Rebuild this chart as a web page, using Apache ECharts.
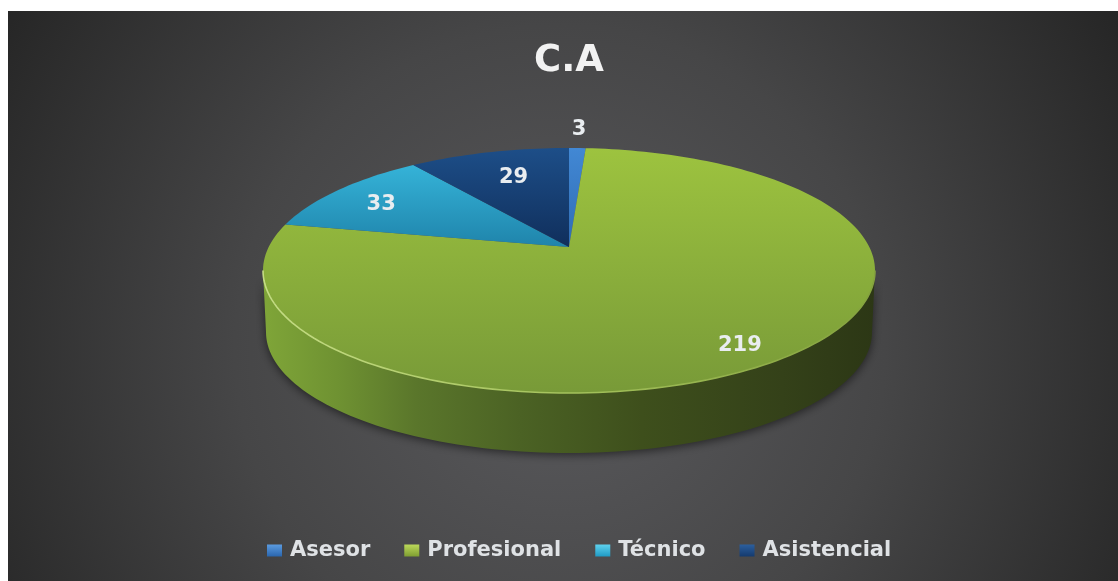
<!DOCTYPE html>
<html>
<head>
<meta charset="utf-8">
<title>C.A</title>
<style>
  html, body { margin: 0; padding: 0; background: #fff; }
  #chart { width: 1118px; height: 581px; }
</style>
<script src="https://cdn.jsdelivr.net/npm/echarts@6/dist/echarts.min.js"></script>
</head>
<body>
<div id="chart"></div>
<script>
const chartTitle = 'C.A'
const categories = ['Asesor', 'Profesional', 'Técnico', 'Asistencial']
const values = [3, 219, 33, 29]

// forma de la torta en pantalla
const top3d = { cx: 569, cy: 270.5, rx: 306, ry: 122.5 }
const base3d = { cx: 569, cy: 332, rx: 303, ry: 121 }
const tilt = -0.192 // el vértice queda por encima del centro de la elipse
const labelRadius = [1.26, 0.86, 0.79, 0.72]
const labelShift = [0, 2.5, -1, 1.5]

const grad = (stops, x2, y2) => new echarts.graphic.LinearGradient(0, 0, x2, y2, stops.map((c, i) => ({ offset: i / (stops.length - 1), color: c })))
const globalGrad = (x, y, x2, y2, stops) => ({
  type: 'linear', x, y, x2, y2, global: true,
  colorStops: stops.map(s => ({ offset: s[0], color: s[1] }))
})

const faceColors = [
  globalGrad(0, 148, 0, 247, [[0, '#4288d4'], [1, '#2f6cb4']]),
  globalGrad(0, 148, 0, 393, [[0, '#9dc33f'], [1, '#789a38']]),
  globalGrad(0, 165, 0, 247, [[0, '#35b3d8'], [1, '#1f84ab']]),
  globalGrad(0, 148, 0, 247, [[0, '#1d4e88'], [1, '#102f5c']])
]
const legendColors = [
  grad(['#5b9be0', '#2a66ae'], 0, 1),
  grad(['#bcd95a', '#7f9e32'], 0, 1),
  grad(['#5fd2ee', '#1f9ac4'], 0, 1),
  grad(['#2c5f9e', '#143a6e'], 0, 1)
]

const total = values.reduce((a, b) => a + b, 0)
const startAngle = i => values.slice(0, i).reduce((a, b) => a + b, 0) / total * 360

// punto del disco (ángulo en grados desde arriba, horario) proyectado con perspectiva
function project(angle, r, e) {
  const a = angle * Math.PI / 180
  const x = r * Math.sin(a)
  const y = -r * Math.cos(a)
  const w = 1 + y * tilt
  return [
    e.cx + e.rx * x * Math.sqrt(1 - tilt * tilt) / w,
    e.cy + e.ry * (y + tilt) / w
  ]
}

function arc(from, to, e) {
  const steps = Math.max(2, Math.ceil((to - from) / 1.5))
  const pts = []
  for (let i = 0; i <= steps; i++) pts.push(project(from + (to - from) * i / steps, 1, e))
  return pts
}

// solo se ve la pared de la parte delantera
const frontFrom = Math.acos(tilt) * 180 / Math.PI
const frontTo = 360 - frontFrom

function renderSlice(i, params, api) {
  const from = startAngle(i)
  const to = from + api.value(0) / total * 360
  const children = []

  const wallFrom = Math.max(from, frontFrom)
  const wallTo = Math.min(to, frontTo)
  if (wallFrom < wallTo) {
    const topEdge = arc(wallFrom, wallTo, top3d)
    const baseEdge = arc(wallFrom, wallTo, base3d).reverse()
    children.push({
      type: 'polygon',
      shape: { points: topEdge.concat(baseEdge) },
      style: {
        fill: globalGrad(264, 0, 874, 0, [
          [0, '#7fa538'], [0.12, '#6f9232'], [0.25, '#5a762b'], [0.42, '#4b6224'],
          [0.62, '#3e4f1c'], [0.85, '#344119'], [1, '#2c3715']
        ]),
        shadowBlur: 10,
        shadowColor: 'rgba(0,0,0,0.55)',
        shadowOffsetY: 2
      }
    })
    children.push({
      type: 'polyline',
      shape: { points: topEdge },
      z2: 5,
      style: {
        fill: 'none',
        lineWidth: 1.6,
        stroke: globalGrad(264, 0, 874, 0, [[0, '#c4dc84'], [0.5, '#a4c25c'], [1, '#84a23e']])
      }
    })
  }

  const face = [project(0, 0, top3d)].concat(arc(from, to, top3d))
  children.push({
    type: 'polygon',
    shape: { points: face },
    z2: 2,
    style: { fill: faceColors[i] }
  })

  const pos = project((from + to) / 2 + labelShift[i], labelRadius[i], top3d)
  children.push({
    type: 'text',
    x: pos[0],
    y: pos[1] + 2,
    z2: 10,
    style: {
      text: String(api.value(0)),
      fill: '#e9edf0',
      font: 'bold 21px "DejaVu Sans"',
      align: 'center',
      verticalAlign: 'middle'
    }
  })
  return { type: 'group', children }
}

const chart = echarts.init(document.getElementById('chart'))
chart.setOption({
  animation: false,
  backgroundColor: '#fff',
  graphic: [{
    type: 'rect',
    z: -10,
    silent: true,
    shape: { x: 8, y: 11, width: 1110, height: 570 },
    style: {
      fill: {
        type: 'radial', x: 560, y: 350, r: 650, global: true,
        colorStops: [
          { offset: 0, color: '#5a5a5d' },
          { offset: 0.5, color: '#464647' },
          { offset: 1, color: '#262626' }
        ]
      }
    }
  }],
  title: {
    text: chartTitle,
    left: 564,
    top: 38,
    textAlign: 'center',
    textStyle: { color: '#f2f2f2', fontFamily: 'DejaVu Sans', fontWeight: 'bold', fontSize: 37 }
  },
  legend: {
    left: 262,
    top: 535,
    icon: 'rect',
    itemWidth: 15,
    itemHeight: 12,
    itemGap: 34,
    data: categories,
    textStyle: { color: '#dfe2e5', fontFamily: 'DejaVu Sans', fontWeight: 'bold', fontSize: 21, padding: [0, 0, 0, 3] }
  },
  series: categories.map((name, i) => ({
    type: 'custom',
    name,
    coordinateSystem: 'none',
    silent: true,
    itemStyle: { color: legendColors[i] },
    data: [values[i]],
    renderItem: (params, api) => renderSlice(i, params, api)
  }))
})
</script>
</body>
</html>
